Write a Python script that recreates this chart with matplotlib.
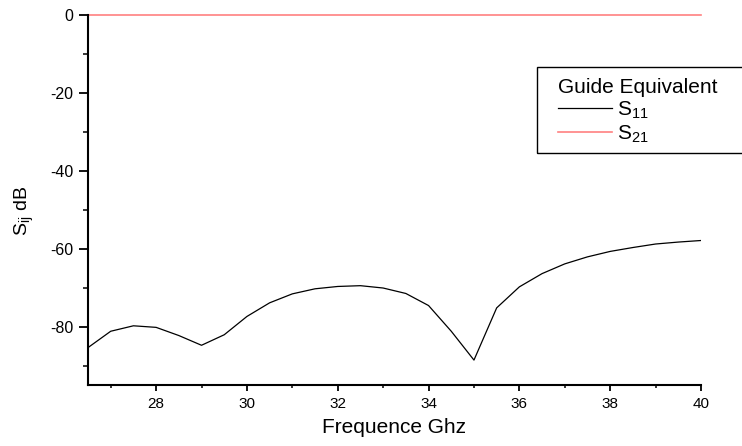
import matplotlib.pyplot as plt
import numpy as np
from matplotlib.patches import Rectangle
from matplotlib.ticker import MultipleLocator

plt.rcParams['font.family'] = ['Liberation Sans', 'DejaVu Sans']
plt.rcParams['font.size'] = 11.5
plt.rcParams['axes.unicode_minus'] = False

freq = np.arange(26.5, 40.01, 0.5)
s11 = [-85.4, -81.2, -79.8, -80.2, -82.3, -84.8, -82.1, -77.4, -73.9, -71.6,
       -70.3, -69.7, -69.5, -70.1, -71.5, -74.6, -81.2, -88.6, -75.2, -69.8,
       -66.4, -63.9, -62.1, -60.7, -59.7, -58.8, -58.3, -57.9]
s21 = [0.0] * len(freq)

W, H = 742, 446
fig = plt.figure(figsize=(W / 100, H / 100), dpi=100)
ax = fig.add_axes([88 / W, 1 - 385 / H, (701 - 88) / W, (385 - 15) / H])

ax.plot(freq, s11, color='black', linewidth=0.9, label=r'S$_{\mathregular{11}}$')
ax.plot(freq, s21, color='#ff8080', linewidth=1.2, label=r'S$_{\mathregular{21}}$', clip_on=False)

ax.set_xlim(26.5, 40)
ax.set_ylim(-95, 0)
ax.xaxis.set_major_locator(MultipleLocator(2))
ax.xaxis.set_minor_locator(MultipleLocator(1))
ax.yaxis.set_major_locator(MultipleLocator(20))
ax.yaxis.set_minor_locator(MultipleLocator(10))
ax.tick_params(axis='x', which='major', direction='out', length=4.5, width=1.3, pad=4,
               labelsize=11)
ax.tick_params(axis='x', which='minor', direction='out', length=2.5, width=1.1)
ax.tick_params(axis='y', which='major', direction='out', length=6.5, width=1.3, pad=4)
ax.tick_params(axis='y', which='minor', direction='out', length=3.5, width=1.1)

for side in ['top', 'right']:
    ax.spines[side].set_visible(False)
for side in ['left', 'bottom']:
    ax.spines[side].set_linewidth(1.5)

ax.set_xlabel('Frequence Ghz', fontsize=15, labelpad=5)
ax.set_ylabel(r'S$_{\mathregular{ij}}$ dB', fontsize=14)
ax.yaxis.set_label_coords(-0.085, 0.47)

# legend box drawn separately so it can run off the right edge
fig.patches.append(Rectangle((537 / W, 1 - 153 / H), 230 / W, 86 / H,
                             transform=fig.transFigure, fill=False,
                             edgecolor='black', linewidth=1.0))
leg = fig.legend(title='Guide Equivalent', loc='upper left',
                 bbox_to_anchor=(558 / W, 1 - 78 / H), frameon=False,
                 fontsize=15, title_fontsize=15, handlelength=2.6,
                 handletextpad=0.25, borderpad=0, borderaxespad=0,
                 alignment='left', labelspacing=0.12)

fig.savefig('out.png', dpi=100)
